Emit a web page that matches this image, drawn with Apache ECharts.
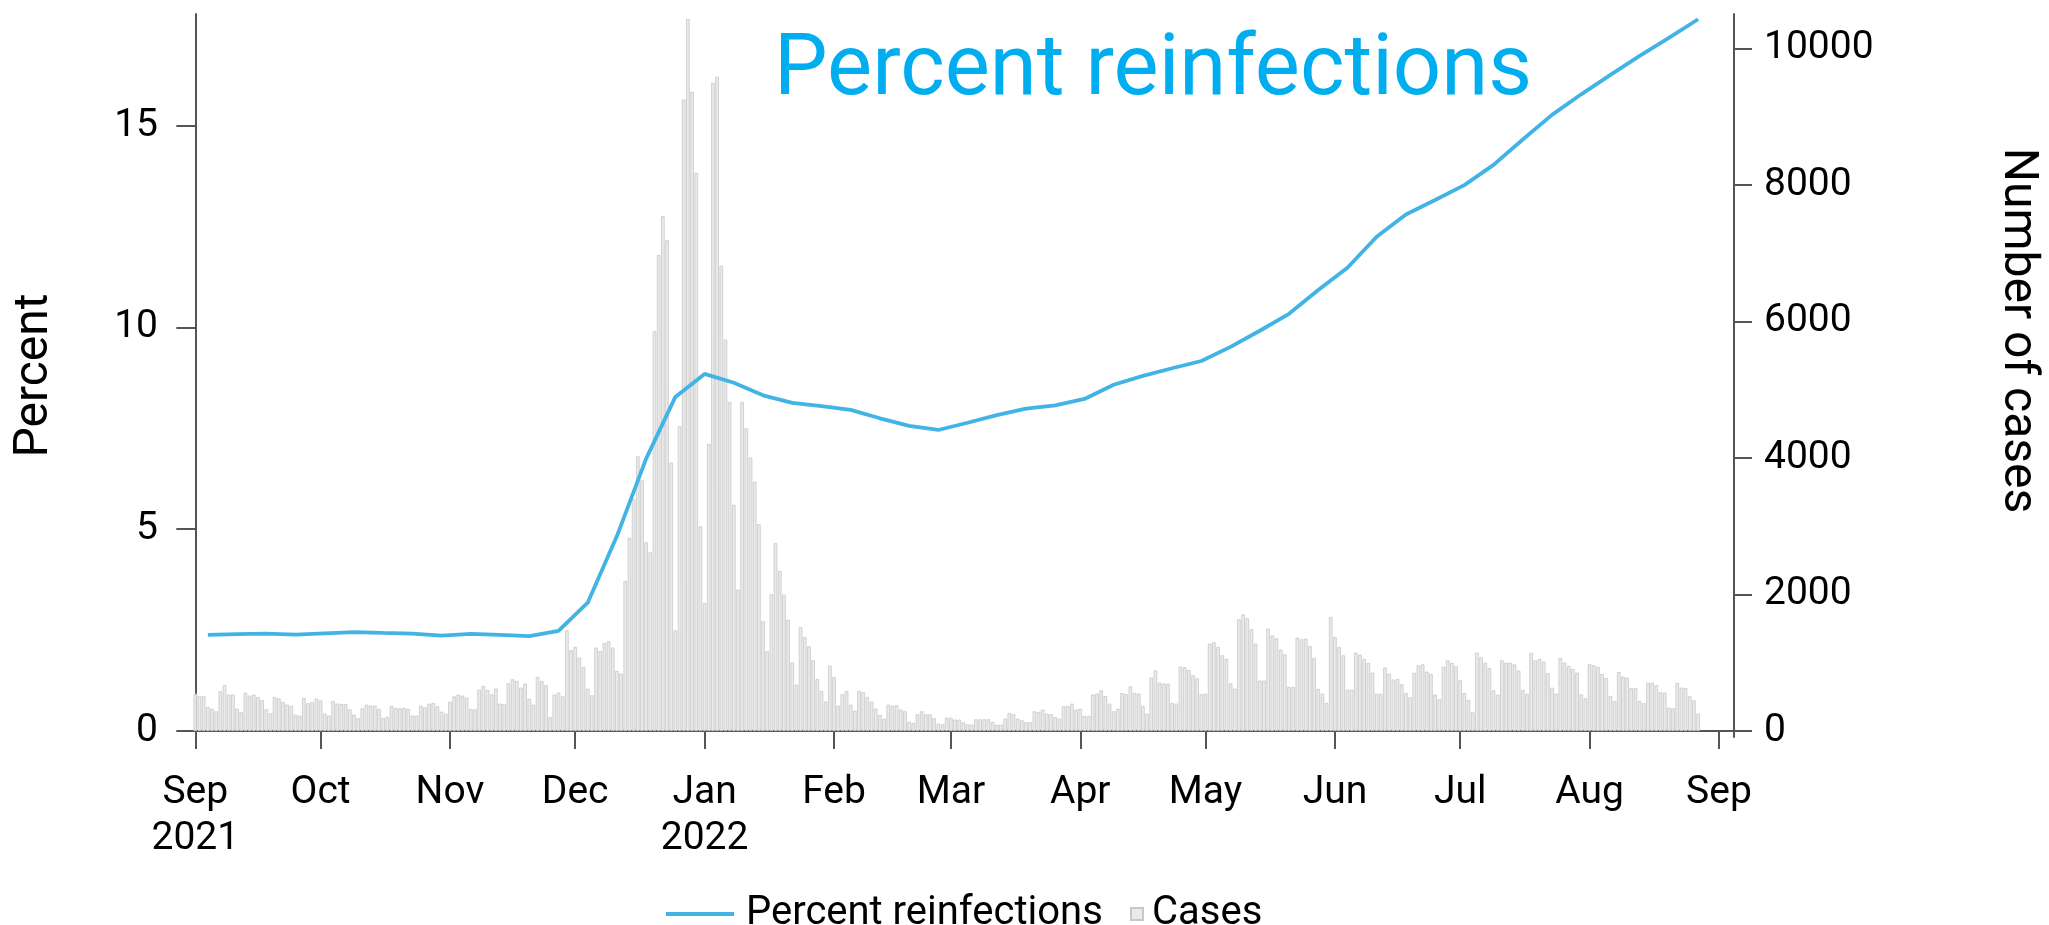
<!DOCTYPE html>
<html>
<head>
<meta charset="utf-8">
<script src="https://cdn.jsdelivr.net/npm/echarts@6/dist/echarts.min.js"></script>
<style>
  html, body { margin: 0; padding: 0; background: #fff; }
  #main { width: 2049px; height: 925px; }
</style>
</head>
<body>
<div id="main"></div>
<script>
// daily cases, one array per month, first day 2021-09-01
var casesSep21 = [547,513,513,352,327,288,582,674,533,533,327,274,562,518,533,498,450,318,259,498,479,425,386,367,240,225,484,406,425,474];
var casesOct21 = [450,254,225,440,401,396,396,318,240,186,332,386,371,371,323,191,205,367,337,332,337,323,225,225,371,347,401,411,362,283,254];
var casesNov21 = [430,508,533,518,489,323,318,606,660,601,538,621,401,396,699,757,733,635,694,474,386,792,733,674,205,533,562,508,1476,1183];
var casesDec21 = [1231,1075,938,621,523,1222,1173,1290,1315,1222,879,841,2199,2830,3400,4032,3675,2766,2619,5860,6974,7546,7194,3934,1476,4467,9256,10434,9368,8181,3000];
var casesJan22 = [1877,4208,9500,9588,6817,5737,4823,3318,2072,4823,4437,4007,3655,3030,1608,1168,2004,2756,2346,1999,1632,1002,679,1520,1378,1241,1036,762,586,430,958];
var casesFeb22 = [792,371,538,586,386,298,586,567,498,430,327,235,176,386,371,376,313,288,132,117,244,288,244,244,186,108,98,195];
var casesMar22 = [195,166,166,127,98,93,171,171,171,171,132,93,93,181,264,244,181,156,132,127,288,279,313,254,244,205,181,362,367,401,313];
var casesApr22 = [327,220,220,533,547,596,513,401,288,323,557,542,655,557,547,367,254,782,889,709,694,694,411,401,943,933,894,816,772,538];
var casesMay22 = [547,1280,1300,1232,1109,1060,699,621,1637,1710,1652,1491,1280,738,738,1500,1398,1359,1192,1124,645,645,1368,1344,1354,1246,1070,616,547,411,1671];
var casesJun22 = [1378,1232,1109,606,606,1148,1119,1056,997,855,547,547,929,841,753,762,684,557,494,855,963,977,870,836,533,464,943,1036,997,948];
var casesJul22 = [743,557,454,274,1148,1080,1002,924,596,533,1036,1002,997,977,885,601,542,1144,1036,1056,1016,845,635,547,1070,1002,953,909,855,538,479];
var casesAug22 = [982,963,938,836,777,513,435,865,797,782,630,630,440,406,709,709,670,567,562,342,332,704,635,630,508,450,254];

// weekly percent reinfections, first week ending 2021-09-04
var firstWeek = '2021-09-04';
var pctReinf = [2.38,2.40,2.415,2.39,2.42,2.45,2.43,2.415,2.365,2.405,2.38,2.35,2.48,3.18,4.83,6.75,8.28,8.85,
  8.63,8.32,8.13,8.05,7.96,7.75,7.56,7.46,7.64,7.83,7.99,8.07,8.23,8.58,8.80,8.99,9.17,9.52,9.92,10.34,
  10.93,11.48,12.25,12.80,13.16,13.53,14.03,14.66,15.27,15.78,16.26,16.73,17.18,17.64];

var monthStarts = ['2021-09-01','2021-10-01','2021-11-01','2021-12-01','2022-01-01','2022-02-01','2022-03-01',
  '2022-04-01','2022-05-01','2022-06-01','2022-07-01','2022-08-01','2022-09-01'];
var monthLabels = ['Sep\n2021','Oct','Nov','Dec','Jan\n2022','Feb','Mar','Apr','May','Jun','Jul','Aug','Sep'];
var pctTicks = [0, 5, 10, 15];
var caseTicks = [0, 2000, 4000, 6000, 8000, 10000];

var startDay = Date.UTC(2021, 8, 1);
function dayIndex(s) {
  var p = s.split('-');
  return Math.round((Date.UTC(+p[0], +p[1] - 1, +p[2]) - startDay) / 86400000);
}

var cases = [].concat(casesSep21, casesOct21, casesNov21, casesDec21, casesJan22, casesFeb22,
  casesMar22, casesApr22, casesMay22, casesJun22, casesJul22, casesAug22);
var barData = [];
for (var i = 0; i < cases.length; i++) barData.push([i, cases[i]]);

var lineData = [];
var w0 = dayIndex(firstWeek);
for (var k = 0; k < pctReinf.length; k++) lineData.push([w0 + 7 * k, pctReinf[k]]);

var monthTicks = monthStarts.map(dayIndex);

var axisCol = '#555555';
var lineCol = '#42B3E5';
var font = 'Roboto';

var myChart = echarts.init(document.getElementById('main'));
var option = {
  animation: false,
  backgroundColor: '#ffffff',
  textStyle: { fontFamily: font },
  title: {
    text: 'Percent reinfections',
    left: 769,
    top: 25,
    textStyle: { fontFamily: font, fontSize: 85, fontWeight: 'normal', color: '#00AEEF' }
  },
  legend: [{
    data: ['Percent reinfections'],
    left: 661,
    top: 889,
    icon: 'rect',
    itemWidth: 68,
    itemHeight: 4,
    textStyle: { fontFamily: font, fontSize: 40, color: '#000', padding: [0, 0, 0, 7] }
  }, {
    data: ['Cases'],
    left: 1125,
    top: 889,
    itemWidth: 12,
    itemHeight: 12,
    icon: 'rect',
    textStyle: { fontFamily: font, fontSize: 40, color: '#000', padding: [0, 0, 0, 4] }
  }],
  grid: { left: 182, right: 307, top: 14, bottom: 188, containLabel: false },
  xAxis: {
    type: 'value',
    min: -3.19,
    max: 368.6,
    splitLine: { show: false },
    axisLine: { lineStyle: { color: axisCol, width: 2 } },
    axisTick: { customValues: monthTicks, length: 18, lineStyle: { color: axisCol, width: 2 } },
    axisLabel: {
      customValues: monthTicks,
      margin: 33,
      fontSize: 39,
      lineHeight: 46,
      color: '#000',
      fontFamily: font,
      formatter: function (v) {
        var j = monthTicks.indexOf(Math.round(v));
        return j >= 0 ? monthLabels[j] : '';
      }
    }
  },
  yAxis: [{
    type: 'value',
    position: 'left',
    min: -0.149,
    max: 17.77,
    name: 'Percent',
    nameLocation: 'middle',
    nameGap: 123,
    nameTextStyle: { fontFamily: font, fontSize: 48, color: '#000' },
    splitLine: { show: false },
    axisLine: { show: true, lineStyle: { color: axisCol, width: 2 } },
    axisTick: { customValues: pctTicks, length: 19, lineStyle: { color: axisCol, width: 2 } },
    axisLabel: { customValues: pctTicks, margin: 24, fontSize: 39, color: '#000', fontFamily: font }
  }, {
    type: 'value',
    position: 'right',
    min: -88,
    max: 10509,
    name: 'Number of cases',
    nameLocation: 'middle',
    nameRotate: -90,
    nameGap: 259,
    nameTextStyle: { fontFamily: font, fontSize: 48, color: '#000', padding: [0, 90, 0, 0] },
    splitLine: { show: false },
    axisLine: { show: true, lineStyle: { color: axisCol, width: 2 } },
    axisTick: { customValues: caseTicks, length: 18, lineStyle: { color: axisCol, width: 2 } },
    axisLabel: {
      customValues: caseTicks, margin: 30, fontSize: 39, color: '#000', fontFamily: font,
      formatter: function (v) { return String(v); }
    }
  }],
  series: [{
    name: 'Cases',
    type: 'bar',
    yAxisIndex: 1,
    barWidth: 3.6,
    itemStyle: { color: '#EAEAEA', borderColor: '#C8C8C8', borderWidth: 0.8 },
    data: barData,
    z: 1
  }, {
    name: 'Percent reinfections',
    type: 'line',
    yAxisIndex: 0,
    symbol: 'none',
    lineStyle: { color: lineCol, width: 3.8 },
    itemStyle: { color: lineCol },
    data: lineData,
    z: 3
  }]
};
myChart.setOption(option);
</script>
</body>
</html>
